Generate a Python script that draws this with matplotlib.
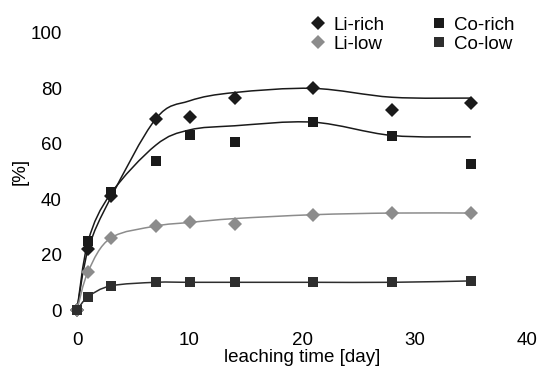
import numpy as np
import matplotlib
matplotlib.use("Agg")
import matplotlib.pyplot as plt
from matplotlib.path import Path
from matplotlib.patches import PathPatch
from matplotlib.lines import Line2D

plt.rcParams['font.family'] = ['Liberation Sans', 'DejaVu Sans']

days = [0, 1, 3, 7, 10, 14, 21, 28, 35]

li_rich = [0, 22, 41, 69, 69.5, 76.5, 80, 72.2, 74.7]
co_rich = [0, 24.8, 42.5, 53.8, 63.3, 60.6, 67.8, 62.8, 52.7]
li_low = [0, 13.7, 26, 30.3, 31.6, 31, 34.3, 35, 35]
co_low = [0, 4.8, 8.7, 10, 10, 10, 10, 10, 10.5]

li_rich_fit = [0, 22, 40.5, 69, 75.5, 78.5, 80, 76.8, 76.5]
co_rich_fit = [0, 25, 42, 59.5, 65, 66.5, 67.8, 63, 62.5]
li_low_fit = [0, 14, 26, 30.3, 31.6, 33, 34.4, 35, 35]
co_low_fit = [0, 4.8, 8.7, 10, 10, 10, 10, 10, 10.5]

x_ticks = [0, 10, 20, 30, 40]
y_ticks = [0, 20, 40, 60, 80, 100]

BLACK = '#1a1a1a'
DARK = '#2e2e2e'
GRAY = '#8c8c8c'


def smooth_path(xs, ys):
    pts = np.column_stack([xs, ys]).astype(float)
    n = len(pts)
    verts = [pts[0]]
    codes = [Path.MOVETO]
    for i in range(n - 1):
        p0 = pts[i - 1] if i > 0 else pts[i]
        p1 = pts[i]
        p2 = pts[i + 1]
        p3 = pts[i + 2] if i + 2 < n else pts[i + 1]
        c1 = p1 + (p2 - p0) / 6.0
        c2 = p2 - (p3 - p1) / 6.0
        verts += [c1, c2, p2]
        codes += [Path.CURVE4] * 3
    return Path(verts, codes)


fig = plt.figure(figsize=(5.4, 3.67), dpi=100)
ax = fig.add_axes([0.1426, 0.1553, 0.8334, 0.7548])

for fit, col in [(li_rich_fit, BLACK), (co_rich_fit, BLACK), (li_low_fit, GRAY), (co_low_fit, DARK)]:
    ax.add_patch(PathPatch(smooth_path(days, fit), facecolor='none', edgecolor=col,
                           lw=1.1, transform=ax.transData, clip_on=False))

ax.plot(days, li_rich, 'D', color=BLACK, ms=7.5, mew=0, clip_on=False, zorder=3)
ax.plot(days, co_rich, 's', color=BLACK, ms=7.5, mew=0, clip_on=False, zorder=3)
ax.plot(days, li_low, 'D', color=GRAY, ms=7.5, mew=0, clip_on=False, zorder=3)
ax.plot(days, co_low, 's', color=DARK, ms=7.5, mew=0, clip_on=False, zorder=3)

ax.set_xlim(0, 40)
ax.set_ylim(0, 100)
ax.set_xticks(x_ticks)
ax.set_yticks(y_ticks)
ax.tick_params(length=0, labelsize=13.5)
ax.tick_params(axis='x', pad=16)
ax.tick_params(axis='y', pad=11)
for s in ax.spines.values():
    s.set_visible(False)
ax.set_xlabel('leaching time [day]', fontsize=13.5, labelpad=0)
ax.set_ylabel('[%]', fontsize=13.5, labelpad=1)

handles = [
    Line2D([], [], ls='none', marker='D', color=BLACK, ms=7, mew=0),
    Line2D([], [], ls='none', marker='D', color=GRAY, ms=7, mew=0),
    Line2D([], [], ls='none', marker='s', color=BLACK, ms=7.5, mew=0),
    Line2D([], [], ls='none', marker='s', color=DARK, ms=7.5, mew=0),
]
labels = ['Li-rich', 'Li-low', 'Co-rich', 'Co-low']
fig.legend(handles, labels, ncol=2, frameon=False, fontsize=13.5,
           loc='upper left', bbox_to_anchor=(0.565, 0.975),
           handlelength=0.6, handletextpad=0.5, columnspacing=2.6,
           labelspacing=0.1, borderaxespad=0)

fig.savefig('out.png', dpi=100)
